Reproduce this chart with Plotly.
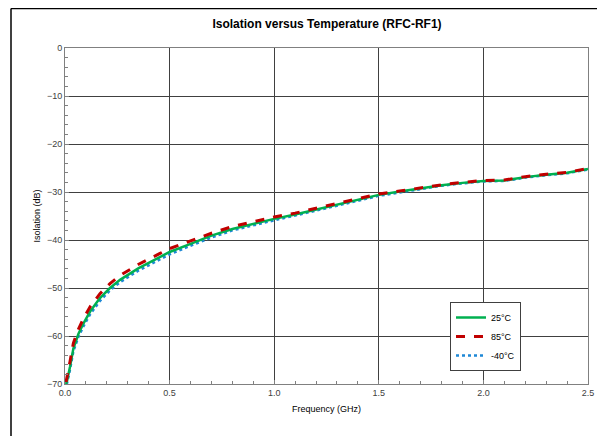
import plotly.graph_objects as go

freq_ghz = [0.005, 0.01, 0.024, 0.04, 0.064, 0.088, 0.12, 0.167, 0.215, 0.263, 0.35,
            0.454, 0.5, 0.6, 0.7, 0.8, 0.9, 1.0, 1.1, 1.2, 1.3, 1.4, 1.5, 1.6, 1.7,
            1.8, 1.9, 2.0, 2.1, 2.2, 2.3, 2.4, 2.5]

iso_25c = [-70.0, -69.3, -66.4, -62.6, -59.6, -57.4, -54.9, -52.1, -50.0, -48.3, -45.9,
           -43.5, -42.5, -40.8, -39.1, -37.7, -36.6, -35.6, -34.7, -33.7, -32.6, -31.6,
           -30.6, -29.9, -29.2, -28.6, -28.1, -27.7, -27.6, -26.9, -26.4, -26.0, -25.2]

iso_85c = [-69.6, -68.3, -65.3, -61.5, -58.6, -56.4, -53.9, -51.2, -49.1, -47.4, -45.1,
           -42.8, -41.8, -40.2, -38.6, -37.2, -36.2, -35.2, -34.4, -33.4, -32.4, -31.4,
           -30.4, -29.8, -29.1, -28.5, -28.0, -27.6, -27.5, -26.8, -26.3, -25.9, -25.1]

iso_m40c = [-70.0, -69.8, -67.0, -63.2, -60.2, -58.0, -55.5, -52.7, -50.5, -48.8, -46.4,
            -44.0, -43.0, -41.2, -39.5, -38.0, -36.9, -35.9, -34.9, -33.9, -32.8, -31.8,
            -30.8, -30.1, -29.4, -28.7, -28.2, -27.8, -27.7, -27.0, -26.5, -26.1, -25.3]

series_names = ["25°C", "85°C", "-40°C"]

FONT = "Liberation Sans, Arial, sans-serif"

fig = go.Figure()
fig.add_trace(go.Scatter(x=freq_ghz, y=iso_m40c, name=series_names[2], mode="lines",
                         line=dict(color="#1E88D6", width=2.5, dash="dot"),
                         legendgroup="c", legendrank=3))
fig.add_trace(go.Scatter(x=freq_ghz, y=iso_25c, name=series_names[0], mode="lines",
                         line=dict(color="#00B050", width=2.5),
                         legendgroup="a", legendrank=1))
fig.add_trace(go.Scatter(x=freq_ghz, y=iso_85c, name=series_names[1], mode="lines",
                         line=dict(color="#C00000", width=3, dash="dash"),
                         legendgroup="b", legendrank=2))

# page body has an 8px margin: work in page pixels, convert to figure pixels
OFF = 8
W, H = 605, 436
pl, pr, pt, pb = 65, 588, 48, 384          # plot area in page pixels
ml, mt = pl - OFF, pt - OFF
mr, mb = W - (pr - OFF), H - (pb - OFF)
pw, ph = pr - pl, pb - pt

def px(xpage):
    return (xpage - pl) / pw

def py(ypage):
    return 1 + (pt - ypage) / ph

fig.update_layout(
    width=W, height=H,
    margin=dict(l=ml, r=mr, t=mt, b=mb, autoexpand=False),
    paper_bgcolor="white", plot_bgcolor="white",
    font=dict(family=FONT, size=9, color="#404040"),
    title=dict(text="<b>Isolation versus Temperature (RFC-RF1)</b>",
               x=(327 - OFF) / W, xanchor="center", y=1 - (24 - OFF) / H, yanchor="middle",
               font=dict(family=FONT, size=12, color="#000000")),
    showlegend=True,
    legend=dict(x=px(450), y=py(302), xanchor="left", yanchor="top",
                bordercolor="#404040", borderwidth=1, bgcolor="white",
                font=dict(family=FONT, size=9, color="#000000"),
                traceorder="grouped", tracegroupgap=0, itemwidth=30),
    xaxis=dict(range=[0, 2.5], dtick=0.5, tickformat=".1f", automargin=False,
               showgrid=True, gridcolor="#404040", gridwidth=1,
               showline=True, linecolor="#808080", linewidth=1, mirror=True,
               ticks="inside", ticklen=4, tickcolor="#808080",
               minor=dict(dtick=0.1, ticks="inside", ticklen=3, tickcolor="#808080", showgrid=False),
               zeroline=False,
               title=dict(text="Frequency (GHz)", standoff=8,
                          font=dict(family=FONT, size=9, color="#000000")),
               tickfont=dict(family=FONT, size=9, color="#404040")),
    yaxis=dict(range=[-70, 0], dtick=10, automargin=False,
               showgrid=True, gridcolor="#404040", gridwidth=1,
               showline=True, linecolor="#808080", linewidth=1, mirror=True,
               ticks="inside", ticklen=4, tickcolor="#808080",
               minor=dict(dtick=2, ticks="inside", ticklen=3, tickcolor="#808080", showgrid=False),
               zeroline=False,
               title=dict(text="Isolation (dB)", standoff=4,
                          font=dict(family=FONT, size=9, color="#000000")),
               tickfont=dict(family=FONT, size=9, color="#404040")),
    shapes=[
        dict(type="line", xref="paper", yref="paper",
             x0=px(11), x1=px(11), y0=py(440), y1=py(8.5),
             line=dict(color="#000000", width=1.5)),
        dict(type="line", xref="paper", yref="paper",
             x0=px(11), x1=px(610), y0=py(8.6), y1=py(8.6),
             line=dict(color="#000000", width=1.5)),
    ],
)

fig.write_html("out.html")
